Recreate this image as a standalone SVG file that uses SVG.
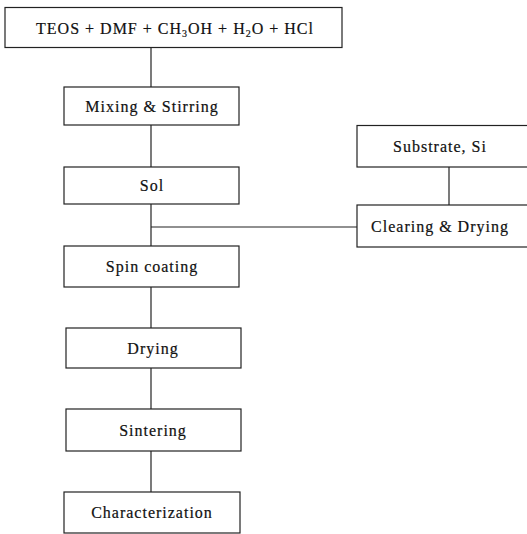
<svg xmlns="http://www.w3.org/2000/svg" width="527" height="534" viewBox="0 0 527 534">
<style>
.box{fill:#fff;stroke:#222;stroke-width:1.2}
.lbl{font-family:"Liberation Serif","Times New Roman",serif;font-size:16px;fill:#111;stroke:#111;stroke-width:0.2;text-anchor:middle;letter-spacing:1px}
.con{stroke:#222;stroke-width:1.2;fill:none}
</style>
<rect width="527" height="534" fill="#fff"/>
<g id="connectors">
<line class="con" x1="151" y1="48" x2="151" y2="87"/>
<line class="con" x1="151" y1="125" x2="151" y2="167"/>
<line class="con" x1="151" y1="204" x2="151" y2="246"/>
<line class="con" x1="151" y1="227" x2="358" y2="227"/>
<line class="con" x1="449" y1="167" x2="449" y2="205"/>
<line class="con" x1="151" y1="287" x2="151" y2="328"/>
<line class="con" x1="151" y1="368" x2="151" y2="409"/>
<line class="con" x1="151" y1="451" x2="151" y2="492"/>
</g>
<g id="n-reagents">
<rect class="box" x="5" y="7.5" width="337" height="40"/>
<text class="lbl" x="175" y="33.5">TEOS + DMF + CH<tspan font-size="10" dy="3">3</tspan><tspan dy="-3">OH + H</tspan><tspan font-size="10" dy="3">2</tspan><tspan dy="-3">O + HCl</tspan></text>
</g>
<g id="n-mixing">
<rect class="box" x="64" y="87" width="175" height="38"/>
<text class="lbl" x="152" y="112">Mixing &amp; Stirring</text>
</g>
<g id="n-sol">
<rect class="box" x="64" y="167" width="175" height="37"/>
<text class="lbl" x="152" y="191">Sol</text>
</g>
<g id="n-spin">
<rect class="box" x="64" y="246" width="175" height="41"/>
<text class="lbl" x="152" y="272">Spin coating</text>
</g>
<g id="n-drying">
<rect class="box" x="66" y="328" width="175" height="40"/>
<text class="lbl" x="153" y="354">Drying</text>
</g>
<g id="n-sintering">
<rect class="box" x="66" y="409" width="175" height="42"/>
<text class="lbl" x="153" y="436">Sintering</text>
</g>
<g id="n-char">
<rect class="box" x="64" y="492" width="176" height="41"/>
<text class="lbl" x="152" y="518">Characterization</text>
</g>
<g id="n-substrate">
<rect class="box" x="357" y="125.5" width="175" height="41.5"/>
<text class="lbl" x="440" y="152">Substrate, Si</text>
</g>
<g id="n-clearing">
<rect class="box" x="357" y="205" width="175" height="42"/>
<text class="lbl" x="440" y="232">Clearing &amp; Drying</text>
</g>
</svg>
